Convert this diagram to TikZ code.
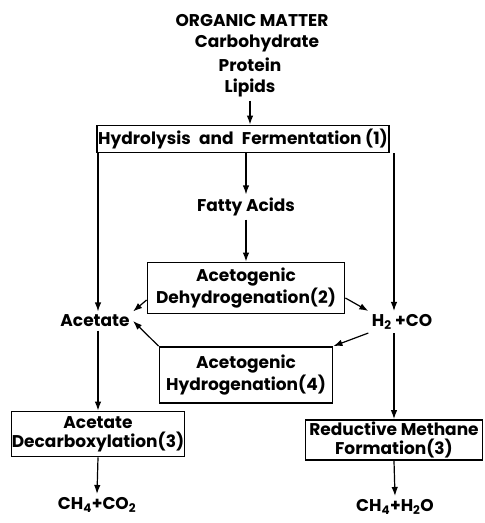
\documentclass[tikz,border=0pt]{standalone}
\usepackage{fontspec}
\setmainfont{Poppins}
\usetikzlibrary{arrows.meta}

\tikzset{
  proc/.style={draw, line width=1.8pt, inner sep=0pt, align=center},
  flow/.style={-{Latex[length=9pt,width=6.5pt]}, line width=1.2pt}
}

\begin{document}
\begin{tikzpicture}[x=1pt, y=-1pt, font=\bfseries\fontsize{17}{19}\selectfont]
\useasboundingbox (0,0) rectangle (485,523);

% Substrato
\node (OM) at (252,21) {ORGANIC MATTER};
\node (carb) at (257,43) {Carbohydrate};
\node (prot) at (250,65) {Protein};
\node (lip) at (250,88) {Lipids};

% Etapas
\node[proc, minimum width=292pt, minimum height=27pt] (HF) at (243,139) {Hydrolysis\; and\; Fermentation (1)};
\node (FA) at (246,207) {Fatty Acids};
\node[proc, minimum width=197pt, minimum height=51pt] (DH) at (246,288) {Acetogenic\\Dehydrogenation(2)};
\node (Ac) at (95,321) {Acetate};
\node (HC) at (402,322) {H\textsubscript{2} +CO};
\node[proc, minimum width=173pt, minimum height=56pt] (HG) at (246,375) {Acetogenic\\Hydrogenation(4)};
\node[proc, minimum width=173pt, minimum height=45pt] (DC) at (98,434) {Acetate\\Decarboxylation(3)};
\node[proc, minimum width=177pt, minimum height=40pt] (RM) at (394,440) {Reductive Methane\\Formation(3)};

% Produtos
\node (P1) at (97,505) {CH\textsubscript{4}+CO\textsubscript{2}};
\node (P2) at (395,507) {CH\textsubscript{4}+H\textsubscript{2}O};

% Conexoes
\draw[flow] (lip.south) -- (HF.north -| lip.south);
\draw[flow] (HF.south -| DC.north) -- (Ac.north -| DC.north);
\draw[flow] (HF.south -| FA.north) -- (FA.north);
\draw[flow] (HF.south -| RM.north) -- (HC.north -| RM.north);
\draw[flow] (FA.south) -- (DH.north);

\draw[flow] ([yshift=-12pt]DH.west) -- (Ac.north east);
\draw[flow] ([yshift=-10pt]DH.east) -- (HC.north west);
\draw[flow] (HG.north west) -- (Ac.east);
\draw[flow] (HC.south west) -- (HG.north east);

\draw[flow] (Ac.south -| DC.north) -- (DC.north);
\draw[flow] (HC.south -| RM.north) -- (RM.north);
\draw[flow] (DC.south) -- (P1.north);
\draw[flow] (RM.south) -- (P2.north);

\end{tikzpicture}
\end{document}
